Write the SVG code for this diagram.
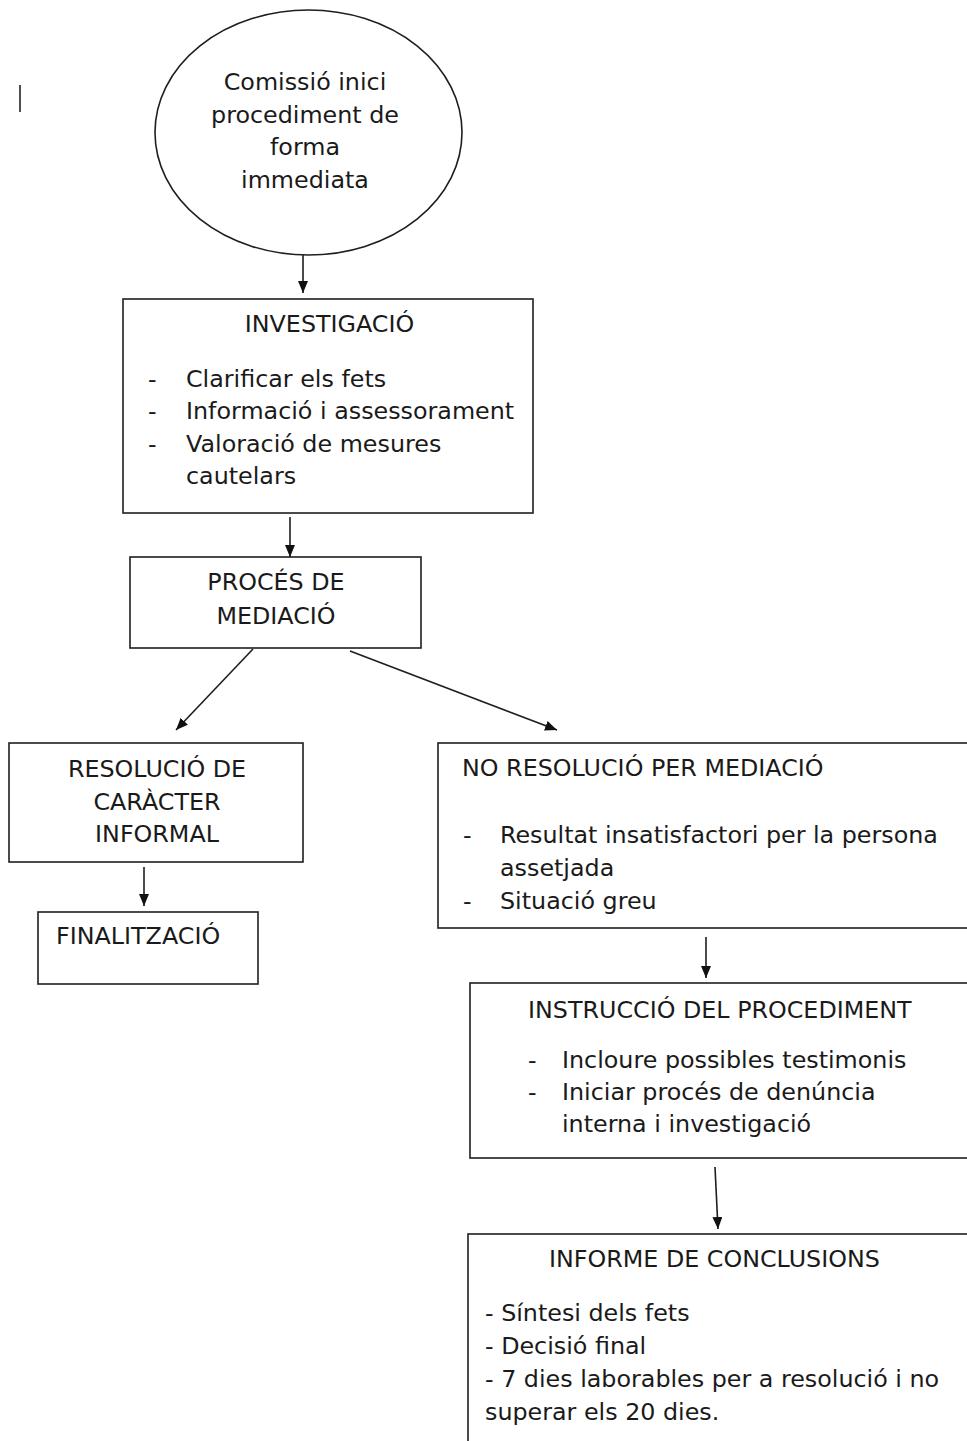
<svg xmlns="http://www.w3.org/2000/svg" width="967" height="1441" viewBox="0 0 967 1441">
<style>
text{font-family:"DejaVu Sans","Verdana",sans-serif;font-size:23.8px;fill:#1a1a1a}
.c{text-anchor:middle}
.box{fill:#fff;stroke:#1e1e1e;stroke-width:1.6}
.con{stroke:#1e1e1e;stroke-width:1.6;fill:none;marker-end:url(#ah)}
</style>
<defs>
<marker id="ah" markerUnits="userSpaceOnUse" markerWidth="12" markerHeight="10" refX="12" refY="5" orient="auto" viewBox="0 0 12 10">
<path d="M0,0 L12,5 L0,10 z" fill="#111"/>
</marker>
</defs>
<rect width="967" height="1441" fill="#fff"/>
<line x1="20" y1="85" x2="20" y2="112" stroke="#222" stroke-width="1.6"/>

<g id="connectors">
<line class="con" x1="303" y1="255" x2="303" y2="293"/>
<line class="con" x1="290" y1="517" x2="290" y2="557"/>
<line class="con" x1="253" y1="649" x2="176" y2="730"/>
<line class="con" x1="350" y1="651" x2="557" y2="730"/>
<line class="con" x1="144" y1="867" x2="144" y2="906"/>
<line class="con" x1="706" y1="937" x2="706" y2="978"/>
<line class="con" x1="715" y1="1167" x2="718" y2="1229"/>
</g>

<g id="start">
<ellipse class="box" cx="308.5" cy="132.5" rx="153.5" ry="122.5"/>
<text class="c" x="305" y="90">Comissió inici</text>
<text class="c" x="305" y="122.5">procediment de</text>
<text class="c" x="305" y="155">forma</text>
<text class="c" x="305" y="187.5">immediata</text>
</g>

<g id="investigacio">
<rect class="box" x="123" y="299" width="410" height="214"/>
<text class="c" x="329.5" y="332">INVESTIGACIÓ</text>
<text x="148" y="387">-</text><text x="186" y="387">Clarificar els fets</text>
<text x="148" y="419">-</text><text x="186" y="419">Informació i assessorament</text>
<text x="148" y="452">-</text><text x="186" y="452">Valoració de mesures</text>
<text x="186" y="484">cautelars</text>
</g>

<g id="mediacio">
<rect class="box" x="130" y="557" width="291" height="91"/>
<text class="c" x="276" y="590">PROCÉS DE</text>
<text class="c" x="276" y="624">MEDIACIÓ</text>
</g>

<g id="resolucio">
<rect class="box" x="9" y="743" width="294" height="119"/>
<text class="c" x="157" y="777">RESOLUCIÓ DE</text>
<text class="c" x="157" y="810">CARÀCTER</text>
<text class="c" x="157" y="842">INFORMAL</text>
</g>

<g id="finalitzacio">
<rect class="box" x="38" y="912" width="220" height="72"/>
<text x="56" y="944">FINALITZACIÓ</text>
</g>

<g id="no-resolucio">
<rect class="box" x="438" y="743" width="540" height="185"/>
<text x="462" y="776">NO RESOLUCIÓ PER MEDIACIÓ</text>
<text x="463" y="843">-</text><text x="500" y="843">Resultat insatisfactori per la persona</text>
<text x="500" y="876">assetjada</text>
<text x="463" y="909">-</text><text x="500" y="909">Situació greu</text>
</g>

<g id="instruccio">
<rect class="box" x="470" y="983" width="510" height="175"/>
<text x="528" y="1018">INSTRUCCIÓ DEL PROCEDIMENT</text>
<text x="528" y="1068">-</text><text x="562" y="1068">Incloure possibles testimonis</text>
<text x="528" y="1100">-</text><text x="562" y="1100">Iniciar procés de denúncia</text>
<text x="562" y="1132">interna i investigació</text>
</g>

<g id="informe">
<rect class="box" x="468" y="1234" width="512" height="230"/>
<text x="549" y="1267">INFORME DE CONCLUSIONS</text>
<text x="485" y="1321">- Síntesi dels fets</text>
<text x="485" y="1354">- Decisió final</text>
<text x="485" y="1387">- 7 dies laborables per a resolució i no</text>
<text x="485" y="1420">superar els 20 dies.</text>
</g>
</svg>
